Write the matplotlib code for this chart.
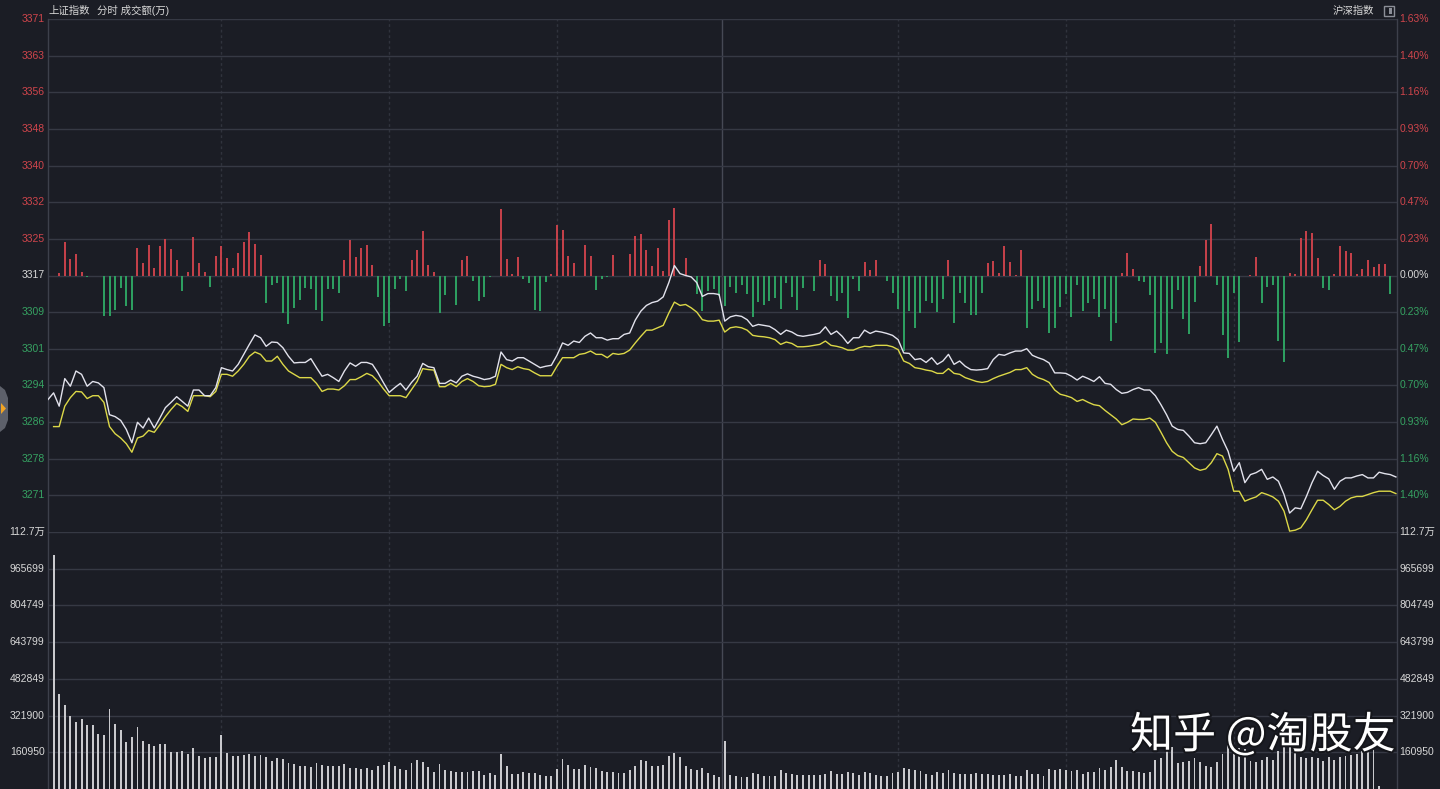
"""
Intraday (分时) chart of the Shanghai Composite in a dark trading-terminal style.

Top panel: index line (white), equal-weight line (yellow) and red/green breadth bars
around the previous close. Bottom panel: per-minute turnover bars.
"""

import matplotlib

matplotlib.use("Agg")  # no display in the sandbox
import matplotlib.patheffects as pe
import matplotlib.pyplot as plt
import numpy as np
from matplotlib.patches import Polygon, Rectangle

plt.rcParams["font.family"] = ["Liberation Sans", "Noto Sans CJK SC", "DejaVu Sans"]

BG = "#1b1d25"
GRID = "#363944"
VGRID = "#30333d"
SPINE = "#3d404b"
RED = "#c8424b"
GREEN = "#2ea262"
LABEL_RED = "#d0454c"
LABEL_GREEN = "#36a262"
TXT = "#d8d8d8"

PREV_CLOSE = 3317.0
STEP = 7.712          # one grid row = 0.2325 % of previous close
VOL_STEP = 160950     # one grid row of turnover
BREADTH_UNIT = STEP / 110.0

# ---- data ----------------------------------------------------------------------------
# index line, minutes -1 .. 240 (first point is the opening print on the left border)
index_line = [
    3290.9, 3292.3, 3289.5, 3295.3, 3293.7, 3296.9, 3296.2, 3293.7, 3294.7, 3294.4,
    3293.4, 3287.7, 3287.3, 3286.5, 3284.6, 3281.8, 3286.1, 3284.9, 3287.0, 3284.9,
    3287.0, 3289.2, 3290.3, 3291.5, 3290.5, 3289.5, 3292.9, 3292.9, 3291.7, 3291.7,
    3293.4, 3297.6, 3297.2, 3296.9, 3298.3, 3300.4, 3302.5, 3304.5, 3303.9, 3302.1,
    3303.0, 3302.9, 3301.8, 3300.0, 3298.6, 3298.7, 3298.7, 3299.5, 3297.6, 3295.8,
    3296.2, 3295.5, 3294.7, 3296.9, 3298.6, 3297.9, 3298.7, 3298.7, 3298.3, 3296.5,
    3294.4, 3292.4, 3293.4, 3294.3, 3292.9, 3294.5, 3295.8, 3298.5, 3297.8, 3297.6,
    3294.3, 3294.3, 3295.0, 3294.4, 3295.8, 3296.3, 3295.8, 3295.5, 3295.1, 3295.3,
    3295.8, 3300.9, 3299.3, 3299.0, 3299.7, 3299.7, 3299.0, 3298.3, 3297.6, 3297.9,
    3298.1, 3300.2, 3302.8, 3302.3, 3303.2, 3302.9, 3304.2, 3304.9, 3303.9, 3303.9,
    3303.4, 3303.7, 3303.7, 3304.6, 3304.9, 3307.6, 3309.5, 3310.7, 3311.3, 3311.6,
    3312.5, 3315.5, 3319.1, 3317.4, 3317.0, 3316.7, 3315.5, 3312.6, 3313.2, 3313.2,
    3313.0, 3307.4, 3308.3, 3308.6, 3308.4, 3307.7, 3306.3, 3306.7, 3306.5, 3306.3,
    3305.6, 3304.6, 3305.5, 3305.1, 3304.4, 3304.2, 3304.4, 3304.6, 3304.9, 3306.2,
    3304.6, 3305.3, 3304.2, 3302.7, 3303.9, 3303.9, 3305.5, 3304.8, 3305.3, 3305.1,
    3304.8, 3304.4, 3303.5, 3300.7, 3300.6, 3299.3, 3299.5, 3298.7, 3299.7, 3298.3,
    3299.0, 3300.4, 3298.3, 3299.0, 3297.9, 3297.2, 3297.1, 3297.2, 3297.4, 3299.3,
    3300.4, 3300.2, 3300.7, 3301.1, 3301.1, 3301.6, 3300.2, 3299.7, 3299.3, 3298.6,
    3296.5, 3296.5, 3296.4, 3295.8, 3295.0, 3295.8, 3295.3, 3294.7, 3295.7, 3294.3,
    3294.1, 3293.0, 3292.2, 3292.4, 3293.0, 3293.4, 3292.9, 3292.9, 3291.7, 3289.8,
    3287.7, 3285.3, 3284.6, 3284.4, 3283.2, 3281.8, 3281.6, 3281.8, 3283.5, 3285.3,
    3282.5, 3280.0, 3275.8, 3277.6, 3273.4, 3275.1, 3275.5, 3276.2, 3274.1, 3274.6,
    3273.7, 3270.9, 3267.0, 3268.1, 3267.9, 3270.5, 3273.4, 3275.8, 3274.9, 3274.2,
    3272.0, 3273.7, 3274.4, 3274.4, 3274.8, 3275.1, 3274.4, 3274.4, 3275.6, 3275.3,
    3275.1, 3274.6,
]

# equal-weight (yellow) line, minutes 0 .. 240
equal_line = [
    3285.2, 3285.2, 3289.5, 3291.3, 3292.6, 3292.5, 3291.1, 3291.7, 3291.7, 3290.3,
    3285.2, 3283.7, 3282.8, 3281.6, 3279.8, 3282.8, 3283.2, 3284.4, 3284.0, 3285.6,
    3287.3, 3288.8, 3290.1, 3289.4, 3288.4, 3291.7, 3291.7, 3291.7, 3291.5, 3292.6,
    3296.2, 3296.2, 3295.8, 3296.9, 3298.3, 3300.0, 3300.9, 3300.4, 3299.0, 3299.0,
    3300.0, 3298.3, 3296.9, 3296.2, 3295.5, 3295.5, 3295.5, 3294.3, 3292.6, 3293.1,
    3293.1, 3292.9, 3293.8, 3295.1, 3295.1, 3295.7, 3296.4, 3295.9, 3294.7, 3293.1,
    3291.7, 3291.7, 3291.7, 3291.3, 3293.0, 3294.7, 3297.4, 3297.2, 3297.1, 3293.6,
    3293.6, 3294.3, 3293.6, 3294.7, 3295.3, 3294.7, 3293.8, 3293.6, 3293.7, 3294.1,
    3298.3, 3297.6, 3297.2, 3297.8, 3297.4, 3297.2, 3296.5, 3295.9, 3295.9, 3295.9,
    3297.9, 3299.7, 3299.7, 3299.7, 3300.4, 3300.6, 3301.1, 3300.4, 3300.4, 3299.7,
    3300.6, 3300.4, 3300.6, 3301.3, 3302.8, 3304.2, 3305.5, 3305.5, 3306.0, 3306.5,
    3309.1, 3311.4, 3310.7, 3310.9, 3310.2, 3309.3, 3307.7, 3307.4, 3307.4, 3307.6,
    3305.1, 3306.0, 3306.2, 3306.0, 3305.5, 3304.4, 3304.2, 3304.1, 3303.9, 3303.5,
    3302.5, 3303.0, 3302.7, 3302.0, 3302.0, 3302.1, 3302.3, 3302.5, 3303.2, 3302.3,
    3302.1, 3301.8, 3301.3, 3301.3, 3301.8, 3302.1, 3302.0, 3302.3, 3302.3, 3302.3,
    3302.0, 3301.4, 3299.0, 3298.5, 3297.6, 3297.4, 3297.1, 3296.9, 3296.4, 3296.4,
    3297.4, 3296.4, 3296.2, 3295.5, 3295.1, 3294.7, 3294.5, 3294.7, 3295.3, 3295.8,
    3296.2, 3296.6, 3297.2, 3297.2, 3297.6, 3296.2, 3295.5, 3295.1, 3294.5, 3292.9,
    3292.0, 3291.7, 3291.3, 3290.5, 3290.9, 3290.3, 3289.8, 3289.6, 3288.6, 3287.7,
    3286.8, 3285.6, 3286.1, 3286.8, 3286.7, 3286.7, 3287.0, 3286.1, 3284.0, 3281.8,
    3280.0, 3279.1, 3278.7, 3277.6, 3276.5, 3276.0, 3276.3, 3277.6, 3279.5, 3279.0,
    3276.2, 3271.6, 3271.6, 3269.5, 3270.0, 3270.4, 3271.3, 3270.9, 3270.4, 3269.5,
    3267.4, 3263.2, 3263.4, 3263.9, 3265.6, 3267.7, 3269.7, 3269.7, 3268.8, 3267.7,
    3268.4, 3269.5, 3270.2, 3270.5, 3270.5, 3270.9, 3271.3, 3271.6, 3271.6, 3271.6,
    3271.1,
]

# breadth bars (advancers minus decliners, arbitrary units), minutes 0 .. 240
breadth = [
    0, 8, 100, 50, 66, 12, -5, 0, 0, -122,
    -122, -104, -37, -92, -104, 82, 38, 92, 24, 90,
    110, 80, 48, -46, 10, 116, 38, 10, -36, 60,
    90, 52, 24, 68, 100, 130, 94, 62, -84, -28,
    -24, -112, -147, -97, -74, -37, -40, -104, -137, -42,
    -40, -54, 46, 108, 56, 82, 92, 32, -64, -152,
    -144, -40, -10, -48, 46, 78, 133, 32, 12, -114,
    -60, 0, -90, 48, 60, -17, -77, -64, -5, 0,
    200, 50, 6, 56, -10, -24, -104, -107, -20, 6,
    153, 138, 60, 38, 0, 92, 58, -44, -10, -4,
    63, 0, 0, 66, 120, 126, 76, 28, 83, 13,
    166, 202, 0, 53, 0, -57, -107, -47, -42, -62,
    -92, -34, -52, -30, -57, -124, -80, -90, -77, -67,
    -102, -22, -64, -104, -37, 0, -47, 46, 36, -62,
    -77, -54, -127, -10, -47, 40, 16, 46, 0, -17,
    -52, -102, -227, -107, -157, -112, -77, -84, -110, -72,
    46, -142, -52, -84, -120, -120, -54, 38, 43, 8,
    88, 40, 3, 78, -157, -100, -77, -97, -172, -157,
    -94, -57, -124, -30, -107, -82, -70, -124, -100, -197,
    -144, 8, 68, 20, -17, -20, -60, -234, -204, -237,
    -102, -44, -130, -177, -80, 30, 106, 156, -30, -180,
    -247, -52, -200, 0, 3, 56, -82, -34, -30, -197,
    -260, 8, 6, 113, 133, 128, 53, -37, -44, 6,
    90, 73, 68, 6, 20, 46, 26, 36, 36, -57,
    0,
]

# turnover per minute (万), minutes 0 .. 240
turnover = [
    1028000, 418000, 370000, 322000, 292500, 308800, 282500, 279400, 243000, 238600,
    351300, 286800, 257500, 204800, 226800, 270600, 211000, 199100, 187300, 199100,
    199100, 164000, 164000, 167100, 155300, 180300, 146500, 136400, 140800, 140800,
    238600, 158300, 143400, 146500, 150900, 155300, 146500, 150900, 140800, 121500,
    136400, 132000, 114500, 110100, 102600, 102600, 96900, 114500, 107000, 99600,
    102600, 99600, 111400, 92500, 92500, 88200, 92500, 85100, 99600, 107000,
    117100, 99600, 88200, 82000, 114500, 125900, 117100, 95200, 73200, 110100,
    82000, 77600, 73200, 73200, 73200, 77600, 77600, 63200, 70600, 63200,
    155300, 99600, 67500, 66200, 75000, 70600, 70600, 63200, 58800, 58800,
    88200, 133300, 107000, 88200, 88200, 107000, 95200, 92500, 77600, 73200,
    73200, 70600, 70600, 82000, 99600, 125900, 121500, 102600, 102600, 107000,
    143400, 158300, 140800, 99600, 88200, 82000, 93900, 70600, 63200, 53100,
    209200, 63200, 58800, 53100, 53100, 70600, 66200, 58800, 58800, 58800,
    85100, 70600, 66200, 63200, 63200, 63200, 63200, 63200, 66200, 77600,
    67500, 66200, 75000, 70600, 63200, 73200, 70600, 63200, 58800, 55700,
    70600, 73200, 92500, 88200, 85100, 77600, 67500, 63200, 75000, 70600,
    85100, 70600, 66200, 66200, 66200, 70600, 66200, 66200, 63200, 63200,
    63200, 66200, 58800, 58800, 82000, 66200, 66200, 58800, 88200, 82000,
    88200, 82000, 77600, 85100, 67500, 73200, 73200, 92500, 85100, 95200,
    125900, 95200, 77600, 77600, 75000, 70600, 75000, 129000, 136400, 180300,
    184700, 114500, 118900, 124600, 136400, 117100, 99600, 95200, 117100, 155300,
    224100, 180300, 180300, 175900, 124600, 117100, 129000, 140800, 129000, 165400,
    209200, 216700, 158300, 140800, 136400, 140800, 136400, 121500, 140800, 125900,
    140800, 143400, 150900, 155300, 165400, 187300, 175900, 15000, 0, 0,
    0,
]

price_labels = ["3371", "3363", "3356", "3348", "3340", "3332", "3325",
                "3317", "3309", "3301", "3294", "3286", "3278", "3271"]
pct_labels = ["1.63%", "1.40%", "1.16%", "0.93%", "0.70%", "0.47%", "0.23%",
              "0.00%", "0.23%", "0.47%", "0.70%", "0.93%", "1.16%", "1.40%"]
vol_labels = ["112.7万", "965699", "804749", "643799", "482849", "321900", "160950"]
half_hour_marks = [30, 60, 90, 119.5, 151, 181, 211]   # 10:00 ... 14:30
midday_mark = 119.5

# ---- layout ---------------------------------------------------------------------------
W_PX, H_PX = 1440, 789


def fx(px):
    return px / W_PX


def fy(py):
    return 1 - py / H_PX


fig = plt.figure(figsize=(14.4, 7.89), dpi=100, facecolor=BG)
left, right = fx(48), fx(1397)
ax = fig.add_axes([left, fy(532), right - left, fy(19) - fy(532)], facecolor=BG)
axv = fig.add_axes([left, 0, right - left, fy(532)], facecolor=BG)

for a in (ax, axv):
    a.set_xlim(-1, 240.2)
    a.set_xticks([])
    a.set_yticks([])
    for side in ("top", "bottom"):
        a.spines[side].set_visible(False)
    for side in ("left", "right"):
        a.spines[side].set_color(SPINE)
        a.spines[side].set_linewidth(1.0)
    for xm in half_hour_marks:
        if xm == midday_mark:
            a.axvline(xm, color="#464955", lw=1.0, zorder=0)
        else:
            a.axvline(xm, color=VGRID, lw=1.0, ls=(0, (2, 2)), zorder=0)

# ---- top panel ------------------------------------------------------------------------
levels = np.arange(7, -7, -1)
ax.set_ylim(PREV_CLOSE - 7 * STEP, PREV_CLOSE + 7 * STEP)
for k in levels:
    ax.axhline(PREV_CLOSE + k * STEP, color=GRID, lw=1.0, zorder=0)

ytr = ax.get_yaxis_transform()
for k, plab, qlab in zip(levels, price_labels, pct_labels):
    col = LABEL_RED if k > 0 else (TXT if k == 0 else LABEL_GREEN)
    y = PREV_CLOSE + k * STEP
    ax.text(-0.0025, y, plab, transform=ytr, ha="right", va="center",
            fontsize=7.5, color=col, clip_on=False)
    ax.text(1.0018, y, qlab, transform=ytr, ha="left", va="center",
            fontsize=7.5, color=col, clip_on=False)

minutes = np.arange(len(equal_line))
br = np.array(breadth) * BREADTH_UNIT
nz = br != 0
ax.vlines(minutes[nz], PREV_CLOSE, PREV_CLOSE + br[nz], lw=1.4,
          colors=[RED if v > 0 else GREEN for v in br[nz]], zorder=2)

ax.plot(np.arange(len(index_line)) - 1, index_line, color="#e2e2ec", lw=1.0, zorder=4)
ax.plot(minutes, equal_line, color="#dcd848", lw=1.0, zorder=3)

# ---- volume panel ---------------------------------------------------------------------
axv.set_ylim(0, 7 * VOL_STEP)
vtr = axv.get_yaxis_transform()
for i, lab in enumerate(vol_labels):
    y = (7 - i) * VOL_STEP
    axv.axhline(y, color=GRID, lw=1.0, zorder=0)
    axv.text(-0.0025, y, lab, transform=vtr, ha="right", va="center",
             fontsize=7.5, color=TXT, clip_on=False)
    axv.text(1.0018, y, lab, transform=vtr, ha="left", va="center",
             fontsize=7.5, color=TXT, clip_on=False)

axv.bar(np.arange(len(turnover)), turnover, width=0.34, color="#c9c9cd",
        linewidth=0, zorder=2)

# ---- header, side tab, watermark ------------------------------------------------------
fig.text(fx(48), fy(11), "上证指数", fontsize=7.5, color=TXT, va="center")
fig.text(fx(97), fy(11), "分时 成交额(万)", fontsize=7.5, color=TXT, va="center")
fig.text(fx(1374), fy(11), "沪深指数", fontsize=7.5, color=TXT, va="center", ha="right")
fig.add_artist(Rectangle((fx(1384), fy(16)), fx(10), fy(6) - fy(16),
                         transform=fig.transFigure, fill=False, ec="#8c8f98", lw=1.0))
fig.add_artist(Rectangle((fx(1389), fy(14)), fx(3), fy(8) - fy(14),
                         transform=fig.transFigure, fc="#8c8f98", lw=0))

tab = [(0, 386), (5, 390), (8, 398), (8, 420), (5, 428), (0, 432)]
fig.add_artist(Polygon([(fx(x), fy(y)) for x, y in tab], closed=True,
                       transform=fig.transFigure, fc="#5d606a", ec="none"))
fig.add_artist(Polygon([(fx(x), fy(y)) for x, y in [(1, 403), (6, 408.5), (1, 414)]],
                       closed=True, transform=fig.transFigure, fc="#f0a324", ec="none"))

fig.text(fx(1130), fy(748), "知乎 @淘股友", fontsize=31, color="white",
         family=["Noto Sans CJK SC", "DejaVu Sans"], va="baseline",
         path_effects=[pe.withStroke(linewidth=3, foreground="#15161b")], zorder=10)

fig.savefig("out.png", dpi=100, facecolor=BG)
plt.close(fig)
